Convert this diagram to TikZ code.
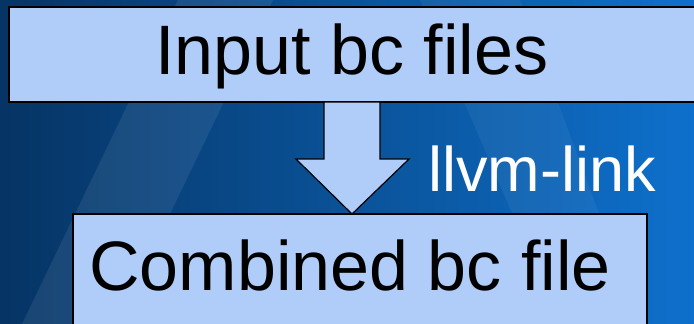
\documentclass[tikz,border=0pt]{standalone}
\usepackage{fontspec}
\setmainfont{Liberation Sans}
\begin{document}
\begin{tikzpicture}[x=1pt,y=-1pt,
  boxstyle/.style={draw=black,line width=1.5pt,fill=boxblue},
  bigtext/.style={font=\fontsize{70}{80}\selectfont,inner sep=0pt}]
\definecolor{boxblue}{RGB}{176,204,248}
\definecolor{bgleft}{RGB}{6,52,100}
\definecolor{bgright}{RGB}{14,112,204}
\useasboundingbox (0,0) rectangle (694,324);
\shade[left color=bgleft,right color=bgright] (0,0) rectangle (694,324);
\fill[white,opacity=0.08] (178,0) -- (273,0) -- (117,324) -- (22,324) -- cycle;
\fill[white,opacity=0.05] (420,0) -- (520,0) -- (640,324) -- (560,324) -- cycle;
% boxes
\draw[boxstyle] (9,7) rectangle (700,102);
\node[bigtext] (top) at (352,56) {Input bc files};
% arrow
\draw[boxstyle,line width=1.2pt,line join=miter] (324,102) -- (380,102) -- (380,159) -- (409,159) -- (352,214) -- (296,159) -- (324,159) -- cycle;
\node[bigtext,text=white,font=\fontsize{63}{72}\selectfont,anchor=base west] (lbl) at (428,191) {llvm-link};
\draw[boxstyle] (73,214) rectangle (647,340);
\node[bigtext] (bot) at (350,265) {Combined bc file};
\end{tikzpicture}
\end{document}
